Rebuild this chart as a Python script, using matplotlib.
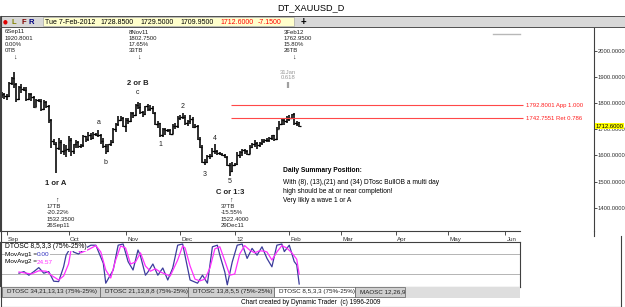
import matplotlib
matplotlib.use('Agg')
import matplotlib.pyplot as plt
import matplotlib.transforms as mtrans
from matplotlib.patches import Rectangle
from matplotlib.lines import Line2D
import numpy as np

plt.rcParams['font.family'] = ['Liberation Sans', 'DejaVu Sans']

# ---------------- data ----------------
opens = [1830, 1835, 1826, 1829, 1876, 1897, 1873, 1817, 1862, 1856,
         1852, 1815, 1834, 1824, 1787, 1813, 1810, 1778, 1806, 1790,
         1737, 1657, 1645, 1627, 1652, 1616, 1619, 1623, 1658, 1616,
         1642, 1650, 1635, 1638, 1673, 1662, 1680, 1668, 1682, 1680,
         1677, 1655, 1636, 1618, 1642, 1653, 1703, 1722, 1737, 1745,
         1714, 1735, 1732, 1762, 1754, 1794, 1784, 1766, 1759, 1788,
         1779, 1781, 1762, 1721, 1723, 1680, 1700, 1696, 1697, 1683,
         1713, 1713, 1745, 1746, 1746, 1723, 1731, 1741, 1710, 1713,
         1663, 1633, 1573, 1576, 1598, 1597, 1618, 1618, 1608, 1606,
         1603, 1595, 1564, 1541, 1565, 1566, 1602, 1612, 1619, 1616,
         1606, 1634, 1642, 1646, 1638, 1646, 1654, 1659, 1659, 1665,
         1678, 1664, 1702, 1722, 1737, 1731, 1740, 1745, 1758, 1725,
         1728.85]
highs = [1842, 1840, 1836, 1882, 1900, 1920.8, 1876, 1866, 1873, 1862,
         1862, 1838, 1840, 1828, 1816, 1818, 1815, 1812, 1808, 1793,
         1740, 1662, 1650, 1667, 1660, 1644, 1640, 1674, 1667, 1645,
         1658, 1656, 1642, 1677, 1676, 1688, 1685, 1690, 1686, 1697,
         1683, 1667, 1645, 1645, 1660, 1705, 1725, 1750, 1750, 1747,
         1745, 1745, 1765, 1767, 1796, 1802.75, 1800, 1772, 1791, 1797,
         1792, 1790, 1765, 1730, 1725, 1704, 1705, 1703, 1702, 1720,
         1723, 1752, 1755, 1762, 1753, 1735, 1754, 1748, 1722, 1716,
         1670, 1638, 1587, 1603, 1604, 1627, 1642, 1620, 1613, 1609,
         1607, 1598, 1570, 1575, 1572, 1612, 1617, 1626, 1625, 1622,
         1640, 1648, 1660, 1652, 1650, 1662, 1664, 1667, 1670, 1680,
         1680, 1708, 1730, 1740, 1740, 1750, 1755, 1760, 1762.95, 1730,
         1729.5]
lows = [1820, 1815, 1812, 1825, 1868, 1858, 1803, 1814, 1840, 1848,
        1809, 1812, 1810, 1780, 1785, 1806, 1772, 1775, 1782, 1725,
        1627, 1640, 1532.35, 1620, 1604, 1603, 1595, 1612, 1597, 1606,
        1630, 1630, 1630, 1634, 1650, 1656, 1658, 1662, 1676, 1670,
        1645, 1630, 1604, 1612, 1636, 1648, 1690, 1712, 1733, 1708,
        1690, 1720, 1728, 1745, 1750, 1778, 1758, 1746, 1756, 1770,
        1770, 1760, 1717, 1705, 1672, 1670, 1680, 1690, 1678, 1681,
        1703, 1706, 1735, 1739, 1716, 1712, 1722, 1705, 1705, 1658,
        1630, 1569, 1562, 1570, 1588, 1594, 1605, 1600, 1600, 1598,
        1590, 1560, 1522.4, 1537, 1560, 1564, 1590, 1598, 1604, 1600,
        1604, 1628, 1634, 1626, 1632, 1640, 1646, 1651, 1652, 1660,
        1655, 1658, 1700, 1716, 1718, 1726, 1732, 1740, 1718, 1712,
        1709.95]
closes = [1835, 1826, 1829, 1876, 1897, 1873, 1817, 1862, 1856, 1852,
          1815, 1834, 1824, 1787, 1813, 1810, 1778, 1806, 1790, 1737,
          1657, 1645, 1627, 1652, 1616, 1619, 1623, 1658, 1616, 1642,
          1650, 1635, 1638, 1673, 1662, 1680, 1668, 1682, 1680, 1677,
          1655, 1636, 1618, 1642, 1653, 1703, 1722, 1737, 1745, 1714,
          1735, 1732, 1762, 1754, 1794, 1784, 1766, 1759, 1788, 1779,
          1781, 1762, 1721, 1723, 1680, 1700, 1696, 1697, 1683, 1713,
          1713, 1745, 1746, 1746, 1723, 1731, 1741, 1710, 1713, 1663,
          1633, 1573, 1576, 1598, 1597, 1618, 1618, 1608, 1606, 1603,
          1595, 1564, 1541, 1565, 1566, 1602, 1612, 1619, 1616, 1606,
          1634, 1642, 1646, 1638, 1646, 1654, 1659, 1659, 1665, 1678,
          1664, 1702, 1722, 1737, 1731, 1740, 1745, 1758, 1725, 1720,
          1712.6]

month_pos = [2, 27, 50, 72, 94, 116, 137, 159, 180, 203]
month_labels = ['Sep', 'Oct', 'Nov', 'Dec', '12', 'Feb', 'Mar', 'Apr', 'May', 'Jun']
price_ticks = [1400, 1500, 1600, 1700, 1800, 1900, 2000]

fib_levels = [1792.8001, 1742.7551]
fib_labels = ['1792.8001 App 1.000', '1742.7551 Ret 0.786']
fib_start = 92.5

osc1_x = [7, 9, 11, 13, 15, 17, 19, 21, 23, 25, 26, 28, 29, 31, 34, 36, 38, 41, 42, 45,
          47, 49, 51, 53, 55, 56, 58, 59, 61, 63, 65, 67, 69, 71, 73, 74, 76, 79, 81, 83,
          85, 87, 88, 90, 91, 93, 95, 97, 99, 101, 103, 105, 107, 109, 111, 113, 114, 116,
          118, 119, 120]
osc1_y = [27, 31, 22, 31, 41, 27, 31, 7, 6, 43, 72, 93, 80, 75, 90, 97, 97, 52, 2, 35,
          97, 100, 56, 35, 85, 70, 22, 30, 50, 22, 40, 10, 40, 97, 100, 70, 10, 2, 22, 2,
          93, 97, 72, 30, -2, 55, 97, 100, 64, 89, 72, 93, 64, 43, 97, 100, 81, 97,
          56, 48, 0]
osc2_x = [7, 9, 12, 15, 18, 20, 23, 25, 27, 28, 30, 32, 35, 38, 40, 42, 44, 46, 48, 50,
          52, 54, 56, 58, 60, 62, 64, 66, 68, 71, 73, 74, 76, 78, 80, 82, 84, 86, 88, 90,
          92, 94, 96, 98, 100, 102, 104, 106, 107, 109, 111, 113, 115, 117, 119, 120]
osc2_y = [30, 28, 25, 33, 32, 22, 10, 20, 50, 85, 90, 78, 86, 96, 80, 35, 15, 60, 95, 90,
          50, 55, 78, 45, 32, 38, 30, 25, 20, 60, 95, 90, 45, 12, 8, 12, 40, 88, 93, 58,
          22, 25, 75, 96, 85, 78, 83, 82, 80, 60, 80, 96, 90, 78, 62, 24.57]

W, H = 625, 307
fig = plt.figure(figsize=(W / 100, H / 100), dpi=100)
fig.patch.set_facecolor('white')


def rect(x0, y0, x1, y1):
    return [x0 / W, 1 - y1 / H, (x1 - x0) / W, (y1 - y0) / H]


def ftext(x, y, s, **kw):
    kw.setdefault('fontsize', 4.4)
    kw.setdefault('va', 'center')
    kw.setdefault('ha', 'left')
    return fig.text(x / W, 1 - y / H, s, **kw)


def fline(x0, y0, x1, y1, **kw):
    fig.add_artist(Line2D([x0 / W, x1 / W], [1 - y0 / H, 1 - y1 / H], **kw))


def frect(x0, y0, x1, y1, **kw):
    fig.add_artist(Rectangle((x0 / W, 1 - y1 / H), (x1 - x0) / W, (y1 - y0) / H,
                             transform=fig.transFigure, **kw))


# ---------------- title + toolbar ----------------
ftext(311, 8, 'DT_XAUUSD_D', fontsize=6.6, ha='center')
frect(0, 16, 625, 27, facecolor='#d8d8d8', edgecolor='#505050', lw=0.7)
ftext(3, 22, '●', color='#e00000', fontsize=4, family=['DejaVu Sans'])
ftext(11, 22, 'L', color='#808000', fontsize=5.5, weight='bold')
ftext(21, 22, 'F', color='#800000', fontsize=5.5, weight='bold')
ftext(29, 22, 'R', color='#000080', fontsize=5.5, weight='bold')
frect(43, 17.5, 294, 26, facecolor='#ffffcc', edgecolor='#a8a8a8', lw=0.5)
tb_items = [(45, 'Tue 7-Feb-2012', 'black'), (100, '1728.8500', 'black'),
            (140, '1729.5000', 'black'), (180, '1709.9500', 'black'),
            (220, '1712.6000', '#ff0000'), (258, '-7.1500', '#ff0000')]
for x, s, c in tb_items:
    ftext(x, 22, s, color=c, fontsize=5)
ftext(303, 21.5, '+', fontsize=7, weight='bold', ha='center')

# ---------------- price panel ----------------
ax = fig.add_axes(rect(0, 28, 594, 231))
ax.set_xlim(-1.6 / 2.48, (594 - 1.6) / 2.48)
ax.set_ylim(2000 - (231 - 51) / 0.261, 2000 + (51 - 28) / 0.261)
ax.set_facecolor('white')
ax.spines['top'].set_visible(False)
for s in ['left', 'right', 'bottom']:
    ax.spines[s].set_color('#404040')
    ax.spines[s].set_linewidth(0.8)
ax.spines['bottom'].set_bounds(-1.6 / 2.48, (520 - 1.6) / 2.48)

ax.yaxis.tick_right()
ax.set_yticks(price_ticks)
ax.set_yticklabels([f'{v:.4f}' for v in price_ticks])
ax.tick_params(axis='y', direction='out', length=2, width=0.6, pad=0.8,
               labelsize=4.2, colors='#303030')
ax.set_xticks(month_pos)
ax.set_xticklabels(month_labels)
ax.tick_params(axis='x', direction='out', length=3, width=0.6, pad=1.0,
               labelsize=4.5, colors='#303030')
off = mtrans.ScaledTranslation(1.5 / 100, 0, fig.dpi_scale_trans)
for lab in ax.get_xticklabels():
    lab.set_horizontalalignment('left')
    lab.set_transform(lab.get_transform() + off)

idx = np.arange(len(closes))
ax.vlines(idx, lows, highs, colors='black', lw=1.15)
ax.hlines(opens, idx - 0.6, idx, colors='black', lw=0.9)
ax.hlines(closes, idx, idx + 0.6, colors='black', lw=0.9)

# projection lines
fib_end = (523 - 1.6) / 2.48
ax.hlines(fib_levels, fib_start, fib_end, colors='#ff4848', lw=0.8)
for lv, lb in zip(fib_levels, fib_labels):
    ax.text(fib_end + 1.2, lv, lb, color='#ff2020', fontsize=4.3, va='center', ha='left')

# 31 Jan marker
ax.vlines(115.5, 1858, 1881, colors='#a0a0a0', lw=1.6)
ax.text(115.5, 1916, '31Jan', color='#999999', fontsize=4.2, ha='center', va='center')
ax.text(115.5, 1897, '0.618', color='#999999', fontsize=4.2, ha='center', va='center')

# current price tag
ax.text(1.003, closes[-1], f'{closes[-1]:.4f}', transform=ax.get_yaxis_transform(),
        fontsize=4.2, va='center', ha='left', clip_on=False, zorder=10,
        bbox=dict(facecolor='#ffff00', edgecolor='none', pad=0.6))


# wave labels (offsets in px)
def wlabel(i, base, dy_px, s, bold=False, fs=5.0):
    ax.annotate(s, xy=(i, base), xytext=(0, dy_px * 0.72), textcoords='offset points',
                ha='center', va='center', fontsize=fs,
                weight='bold' if bold else 'normal', color='#202020')


wlabel(39, highs[39], 8, 'a')
wlabel(42, lows[42], -8.6, 'b')
wlabel(55, highs[55], 9.5, 'c')
wlabel(55, highs[55], 18.5, '2 or B', bold=True, fs=5.5)
wlabel(64, lows[64], -7.4, '1')
wlabel(73, highs[73], 7, '2')
wlabel(82, lows[82], -8.7, '3')
wlabel(86, highs[86], 6.4, '4')
wlabel(92, lows[92], -6.3, '5')
wlabel(22, lows[22], -10.5, '1 or A', bold=True, fs=5.5)
wlabel(92, lows[92], -16.5, 'C or 1:3', bold=True, fs=5.5)

# pivot info blocks
top_blocks = [(5, ['6Sep11', '1920.8001', '0.00%', '0TB']),
              (129, ['8Nov11', '1802.7500', '17.65%', '33TB']),
              (284, ['3Feb12', '1762.9500', '15.80%', '26TB'])]
for x, lines in top_blocks:
    for k, s in enumerate(lines):
        ftext(x, 32 + k * 6.3, s, fontsize=4.3, color='#202020')
    ftext(x + 9.5, 57, '↓', fontsize=5, ha='center', color='#202020')
bot_blocks = [(47, ['17TB', '-20.22%', '1532.3500', '26Sep11']),
              (221, ['37TB', '-15.55%', '1522.4000', '29Dec11'])]
for x, lines in bot_blocks:
    ftext(x + 10, 200.5, '↑', fontsize=5, ha='center', color='#202020')
    for k, s in enumerate(lines):
        ftext(x, 206 + k * 6.6, s, fontsize=4.3, color='#202020')

# summary text
ftext(283, 170, 'Daily Summary Position:', fontsize=4.8, weight='bold')
ftext(283, 183, 'With (8), (13),(21) and (34) DTosc BullOB a multi day', fontsize=4.8)
ftext(283, 191.5, 'high should be at or near completion!', fontsize=4.8)
ftext(283, 200, 'Very likly a wave 1 or A', fontsize=4.8)

fline(493, 34, 520, 34, color='#b8b8b8', lw=1.0)
fline(594, 231, 594, 236, color='#404040', lw=0.8)

# ---------------- oscillator panel ----------------
ax2 = fig.add_axes(rect(0, 242, 520, 287))
ax2.set_xlim(-1.6 / 2.48, (520 - 1.6) / 2.48)
ax2.set_ylim(-7.5, 105)
ax2.set_xticks([])
ax2.set_yticks([])
for s in ax2.spines.values():
    s.set_color('#404040')
    s.set_linewidth(0.8)
ax2.axhline(75, color='#a8a8a8', lw=0.6)
ax2.axhline(25, color='#a8a8a8', lw=0.6)
ax2.plot(osc1_x, osc1_y, color='#3c3c9c', lw=0.9)
ax2.plot(osc2_x, osc2_y, color='#ff30ff', lw=0.9)

wb = dict(facecolor='white', edgecolor='none', pad=0.2)
ftext(5, 247, 'DTOSC 8,5,3,3 (75%-25%)', fontsize=4.9, bbox=wb)
ftext(5, 254.5, 'MovAvg1 =', fontsize=4.6, bbox=wb)
ftext(37, 254.5, f'{osc1_y[-1]:.2f}', fontsize=4.6, color='#3030c0', bbox=wb)
ftext(5, 262, 'MovAvg2 =', fontsize=4.6, bbox=wb)
ftext(37, 262, f'{osc2_y[-1]:.2f}', fontsize=4.6, color='#ff30ff', bbox=wb)

# tabs
frect(0, 287, 520, 297.5, facecolor='#dedede', edgecolor='none')
tabs = [(2, 100, 'DTOSC 34,21,13,13 (75%-25%)', False),
        (100, 188, 'DTOSC 21,13,8,8 (75%-25%)', False),
        (188, 274, 'DTOSC 13,8,5,5 (75%-25%)', False),
        (274, 355, 'DTOSC 8,5,3,3 (75%-25%)', True),
        (355, 405, 'MAOSC 12,26,9', False)]
for x0, x1, s, act in tabs:
    frect(x0, 287, x1, 297, facecolor='white' if act else '#cfcfcf',
          edgecolor='#606060', lw=0.5)
    ftext(x0 + 5, 292, s, fontsize=4.5, color='#202020')

ftext(311, 302, 'Chart created by Dynamic Trader  (c) 1996-2009', fontsize=4.7, ha='center')

# outer frame
fline(0.5, 16, 0.5, 306.5, color='#404040', lw=0.8)
fline(0.5, 306.5, 621, 306.5, color='#404040', lw=0.8)
fline(621, 236, 621, 306.5, color='#404040', lw=0.8)

fig.savefig('out.png', dpi=100, facecolor='white')
